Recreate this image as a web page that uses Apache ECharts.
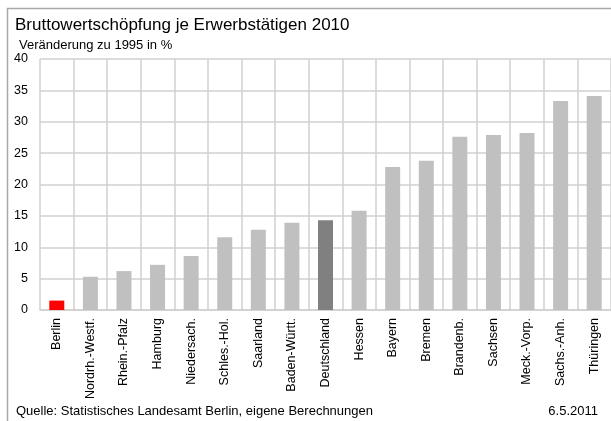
<!DOCTYPE html>
<html>
<head>
<meta charset="utf-8">
<script src="https://cdn.jsdelivr.net/npm/echarts@6/dist/echarts.min.js"></script>
<style>
  html, body { margin: 0; padding: 0; background: #fff; }
  #chart { width: 611px; height: 421px; }
</style>
</head>
<body>
<div id="chart"></div>
<script>
  // Veränderung der Bruttowertschöpfung je Erwerbstätigen 2010 zu 1995 in %
  var laender = ['Berlin', 'Nordrh.-Westf.', 'Rhein.-Pfalz', 'Hamburg', 'Niedersach.',
    'Schles.-Hol.', 'Saarland', 'Baden-Württ.', 'Deutschland', 'Hessen', 'Bayern',
    'Bremen', 'Brandenb.', 'Sachsen', 'Meck.-Vorp.', 'Sachs.-Anh.', 'Thüringen'];
  var veraenderung = [1.5, 5.3, 6.2, 7.2, 8.6, 11.6, 12.8, 13.9, 14.3, 15.8, 22.8,
    23.8, 27.6, 27.9, 28.2, 33.3, 34.1];
  var yTicks = [0, 5, 10, 15, 20, 25, 30, 35, 40];

  var font = 'Liberation Sans, Arial, sans-serif';
  var gridColor = '#d0d0d0';

  var chart = echarts.init(document.getElementById('chart'));
  chart.setOption({
    animation: false,
    backgroundColor: '#fff',
    title: [
      {
        text: 'Bruttowertschöpfung je Erwerbstätigen 2010',
        left: 10, top: 12,
        textStyle: { fontFamily: font, fontSize: 17, fontWeight: 'normal', color: '#000' }
      },
      {
        text: 'Veränderung zu 1995 in %',
        left: 14, top: 34,
        textStyle: { fontFamily: font, fontSize: 13, fontWeight: 'normal', color: '#000' }
      },
      {
        text: 'Quelle: Statistisches Landesamt Berlin, eigene Berechnungen',
        left: 11, top: 400,
        textStyle: { fontFamily: font, fontSize: 13, fontWeight: 'normal', color: '#000' }
      },
      {
        text: '6.5.2011',
        right: 8, top: 400,
        textStyle: { fontFamily: font, fontSize: 13, fontWeight: 'normal', color: '#000' }
      }
    ],
    graphic: [
      { type: 'line', shape: { x1: 7, y1: 8.5, x2: 611, y2: 8.5 }, style: { stroke: '#a8a8a8', lineWidth: 1.5 } },
      { type: 'line', shape: { x1: 7.5, y1: 8, x2: 7.5, y2: 421 }, style: { stroke: '#a8a8a8', lineWidth: 1.5 } }
    ],
    grid: { left: 40, right: 0, top: 59, height: 251 },
    xAxis: {
      type: 'category',
      data: laender,
      axisLine: { show: true, lineStyle: { color: gridColor, width: 1.5 } },
      axisTick: { show: false },
      splitLine: { show: true, interval: 0, lineStyle: { color: gridColor, width: 1.5 } },
      axisLabel: {
        interval: 0, rotate: 90, margin: 8,
        fontFamily: font, fontSize: 12.5, color: '#000'
      }
    },
    yAxis: {
      type: 'value',
      min: yTicks[0],
      max: yTicks[yTicks.length - 1],
      interval: yTicks[1] - yTicks[0],
      axisLine: { show: false },
      axisTick: { show: false },
      splitLine: { lineStyle: { color: gridColor, width: 1.5 } },
      axisLabel: { margin: 12, fontFamily: font, fontSize: 12.5, color: '#000' }
    },
    series: [{
      type: 'bar',
      data: veraenderung,
      barWidth: 15,
      itemStyle: {
        color: function (p) {
          if (p.name === 'Berlin') return '#ff0000';
          if (p.name === 'Deutschland') return '#808080';
          return '#c0c0c0';
        }
      }
    }]
  });
</script>
</body>
</html>
